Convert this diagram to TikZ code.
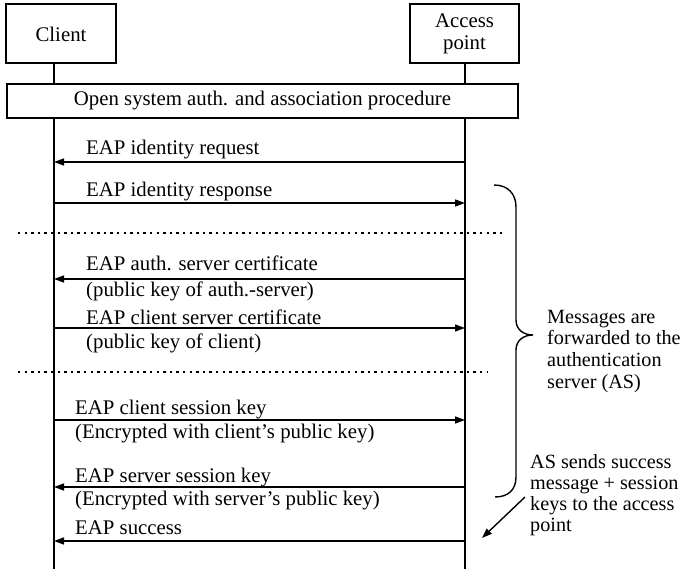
\documentclass[tikz,border=0pt]{standalone}
\usepackage{fontspec}
\setmainfont{Liberation Serif}
\usetikzlibrary{arrows.meta}
\begin{document}
\begin{tikzpicture}[x=1pt,y=-1pt,
  every node/.style={font=\fontsize{20.8}{22}\selectfont, inner sep=0pt},
  actor/.style={draw, line width=1.3pt, minimum width=110pt, minimum height=59pt, align=center},
  lifeline/.style={line width=1.4pt},
  msg/.style={line width=1.4pt, -{Triangle[length=10pt,width=7pt]}},
  lbl/.style={anchor=base west},
  sep/.style={line width=2.4pt, dash pattern=on 2.4pt off 4.2pt},
  note/.style={anchor=base west, font=\fontsize{20.2}{21}\selectfont},
  brace/.style={line width=1.4pt},
]
\useasboundingbox (0,0) rectangle (685,569);
\fill[white] (0,0) rectangle (685,569);

% actors
\node[actor, text depth=0pt] (client) at (61,33.5) {\raisebox{-2pt}{Client}};
\node[actor, minimum width=109pt] (ap) at (464.5,33.5) {\raisebox{-2pt}{Access}\\[0pt]\raisebox{-2pt}{point}};

% lifelines
\coordinate (cTop) at (54,63);  \coordinate (cBot) at (54,569);
\coordinate (aTop) at (465,63); \coordinate (aBot) at (465,569);
\draw[lifeline] (cTop) -- (cBot);
\draw[lifeline] (aTop) -- (aBot);

% open system box
\node[draw, line width=2.6pt, fill=white, minimum width=511pt, minimum height=34pt] (open) at (262.5,101) {Open system auth. and association procedure};

% message end points
\foreach \n/\y in {1/162,2/203,3/279,4/328,5/420,6/487,7/541}{
  \coordinate (c\n) at (54,\y);
  \coordinate (a\n) at (465,\y);
}
\draw[msg] (a1) -- (c1);
\draw[msg] (c2) -- (a2);
\draw[msg] (a3) -- (c3);
\draw[msg] (c4) -- (a4);
\draw[msg] (c5) -- (a5);
\draw[msg] (a6) -- (c6);
\draw[msg] (a7) -- (c7);

% labels
\node[lbl] (l1) at (86,155) {EAP identity request};
\node[lbl] (l2) at (86,197) {EAP identity response};
\node[lbl] (l3) at (86,271) {EAP auth. server certificate};
\node[lbl] (l3b) at (86,297) {(public key of auth.-server)};
\node[lbl] (l4) at (86,324) {EAP client server certificate};
\node[lbl] (l4b) at (86,348) {(public key of client)};
\node[lbl] (l5) at (75,414) {EAP client session key};
\node[lbl] (l5b) at (75,438) {(Encrypted with client’s public key)};
\node[lbl] (l6) at (75,482) {EAP server session key};
\node[lbl] (l6b) at (75,505) {(Encrypted with server’s public key)};
\node[lbl] (l7) at (75,534) {EAP success};

% dotted separators
\coordinate (s1a) at (18,233); \coordinate (s1b) at (505,233);
\coordinate (s2a) at (18,372); \coordinate (s2b) at (488,372);
\draw[sep] (s1a) -- (s1b);
\draw[sep] (s2a) -- (s2b);

% brace
\draw[brace] (494,185) .. controls (508,185) and (516,194) .. (516,207)
  -- (516,320) .. controls (516,330) and (524,335) .. (533,335)
  .. controls (524,335) and (516,340) .. (516,350)
  -- (516,477) .. controls (516,490) and (508,497) .. (495,497);

% brace note
\node[note] (m1) at (547,323) {Messages are};
\node[note] (m2) at (547,344) {forwarded to the};
\node[note] (m3) at (547,366) {authentication};
\node[note] (m4) at (547,388) {server (AS)};

% success note and arrow
\coordinate (as1) at (525,497); \coordinate (as2) at (482,538);
\draw[msg] (as1) -- (as2);
\node[note] (n1) at (530,468) {AS sends success};
\node[note] (n2) at (530,489) {message + session};
\node[note] (n3) at (530,510) {keys to the access};
\node[note] (n4) at (530,531) {point};
\end{tikzpicture}
\end{document}
